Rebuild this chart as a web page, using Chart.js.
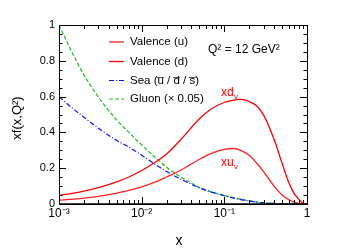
<!DOCTYPE html>
<html>
<head>
<meta charset="utf-8">
<script src="https://cdn.jsdelivr.net/npm/chart.js@4.4.1/dist/chart.umd.min.js"></script>
<style>
  html, body { margin: 0; padding: 0; background: #fff; }
  #pdfChart { display: block; }
</style>
</head>
<body>
<canvas id="pdfChart" width="341" height="250"></canvas>
<script>
// x grid (log scale) and the curves
const xValues = [0.001, 0.0015, 0.002, 0.003, 0.005, 0.007, 0.01, 0.015, 0.02, 0.03, 0.05, 0.07,
                 0.1, 0.13, 0.16, 0.2, 0.25, 0.3, 0.4, 0.5, 0.6, 0.7, 0.8, 0.9, 1.0];
const valenceU = [0.021, 0.027, 0.033, 0.043, 0.061, 0.076, 0.096, 0.125, 0.151, 0.19, 0.25, 0.283,
                  0.305, 0.31, 0.298, 0.272, 0.225, 0.18, 0.1, 0.05, 0.025, 0.01, 0.003, 0.0005, 0];
const valenceD = [0.048, 0.061, 0.072, 0.092, 0.124, 0.151, 0.187, 0.237, 0.279, 0.362, 0.476, 0.532,
                  0.567, 0.58, 0.584, 0.572, 0.545, 0.495, 0.36, 0.227, 0.122, 0.058, 0.026, 0.004, 0];
const seaQuarks = [0.6, 0.53, 0.485, 0.423, 0.355, 0.318, 0.273, 0.218, 0.182, 0.138, 0.09, 0.066,
                   0.046, 0.033, 0.024, 0.016, 0.01, 0.006, 0.003, 0.0015, 0.001, 0.0005, 0.0002, 0.0001, 0];
const gluonScaled = [1.0, 0.83, 0.722, 0.597, 0.469, 0.4, 0.33, 0.255, 0.205, 0.15, 0.093, 0.068,
                     0.048, 0.035, 0.026, 0.018, 0.011, 0.007, 0.0035, 0.0018, 0.001, 0.0005, 0.0002, 0.0001, 0];

const xMajorTicks = [0.001, 0.01, 0.1, 1];
const xTickLabels = ['10\u207B\u00B3', '10\u207B\u00B2', '10\u207B\u00B9', '1'];
const yMajorTicks = [0, 0.2, 0.4, 0.6, 0.8, 1];
const yTickLabels = ['0', '0.2', '0.4', '0.6', '0.8', '1'];

const legendLabels = ['Valence (u)', 'Valence (d)', 'Sea (u\u0305 / d\u0305 / s\u0305)', 'Gluon (\u00D7 0.05)'];

const FONT = '"Liberation Sans", Arial, sans-serif';

function toPoints(ys) {
    return xValues.map((x, i) => ({ x: x, y: ys[i] }));
}

// frame, inward ticks, labels and the in-plot legend (ROOT look)
const rootStyle = {
    id: 'rootStyle',
    afterDraw(chart) {
        const ctx = chart.ctx;
        const a = chart.chartArea;
        const xs = chart.scales.x;
        const ys = chart.scales.y;
        ctx.save();
        ctx.strokeStyle = '#000';
        ctx.lineWidth = 1;

        // ticks on x (bottom and top)
        for (let e = -3; e < 0; e++) {
            for (let m = 1; m <= 9; m++) {
                const v = m * Math.pow(10, e);
                const px = Math.round(xs.getPixelForValue(v)) + 0.5;
                const len = m === 1 ? 7 : 4;
                ctx.beginPath();
                ctx.moveTo(px, a.bottom); ctx.lineTo(px, a.bottom - len);
                ctx.moveTo(px, a.top); ctx.lineTo(px, a.top + len);
                ctx.stroke();
            }
        }
        // ticks on y (left and right)
        for (let k = 0; k <= 20; k++) {
            const v = k * 0.05;
            const py = Math.round(ys.getPixelForValue(v)) + 0.5;
            const len = k % 4 === 0 ? 7 : 3.5;
            ctx.beginPath();
            ctx.moveTo(a.left, py); ctx.lineTo(a.left + len, py);
            ctx.moveTo(a.right, py); ctx.lineTo(a.right - len, py);
            ctx.stroke();
        }

        // frame
        ctx.strokeRect(Math.round(a.left) + 0.5, Math.round(a.top) + 0.5,
                       Math.round(a.right - a.left), Math.round(a.bottom - a.top));
        ctx.lineWidth = 1.5;
        ctx.beginPath();
        ctx.moveTo(a.left, a.bottom); ctx.lineTo(a.right, a.bottom);
        ctx.stroke();

        // tick labels
        ctx.fillStyle = '#000';
        ctx.font = '12px ' + FONT;
        ctx.textAlign = 'center';
        ctx.textBaseline = 'top';
        xMajorTicks.forEach((v, i) => {
            ctx.fillText(xTickLabels[i], xs.getPixelForValue(v), a.bottom + 4);
        });
        ctx.font = '11px ' + FONT;
        ctx.textAlign = 'right';
        ctx.textBaseline = 'middle';
        yMajorTicks.forEach((v, i) => {
            ctx.fillText(yTickLabels[i], a.left - 4, ys.getPixelForValue(v));
        });

        // axis titles
        ctx.font = '14px ' + FONT;
        ctx.textAlign = 'center';
        ctx.textBaseline = 'middle';
        ctx.fillText('x', 179, 241);
        ctx.save();
        ctx.translate(17, 118);
        ctx.rotate(-Math.PI / 2);
        ctx.font = '13px ' + FONT;
        ctx.fillText('xf(x,Q\u00B2)', 0, 0);
        ctx.restore();

        // legend inside the plot
        ctx.font = '11.5px ' + FONT;
        ctx.textAlign = 'left';
        ctx.textBaseline = 'middle';
        const rows = [42, 61.5, 80.5, 99];
        chart.data.datasets.forEach((ds, i) => {
            const y = rows[i];
            ctx.strokeStyle = ds.borderColor;
            ctx.lineWidth = ds.borderWidth;
            ctx.setLineDash(ds.borderDash || []);
            ctx.beginPath();
            ctx.moveTo(109, y); ctx.lineTo(124, y);
            ctx.stroke();
            ctx.setLineDash([]);
            ctx.fillStyle = '#000';
            ctx.fillText(legendLabels[i], 130, y);
        });

        // Q^2 note
        ctx.fillStyle = '#000';
        ctx.font = '12px ' + FONT;
        ctx.textAlign = 'left';
        ctx.fillText('Q\u00B2 = 12 GeV\u00B2', 208, 50);

        // curve labels
        ctx.fillStyle = '#ff0000';
        ctx.font = '12px ' + FONT;
        ctx.fillText('xd', 221, 93);
        ctx.fillText('xu', 221, 163);
        ctx.font = '8px ' + FONT;
        ctx.fillText('v', 234, 97);
        ctx.fillText('v', 234, 167);
        ctx.restore();
    }
};

const ctx = document.getElementById('pdfChart').getContext('2d');
new Chart(ctx, {
    type: 'line',
    data: {
        datasets: [
            { label: legendLabels[0], data: toPoints(valenceU), borderColor: '#ff2020', borderWidth: 1.3 },
            { label: legendLabels[1], data: toPoints(valenceD), borderColor: '#ff0000', borderWidth: 1.3 },
            { label: legendLabels[2], data: toPoints(seaQuarks), borderColor: '#1010ff', borderWidth: 1.2, borderDash: [5, 2, 1, 2] },
            { label: legendLabels[3], data: toPoints(gluonScaled), borderColor: '#22bb22', borderWidth: 1.2, borderDash: [4, 2] }
        ]
    },
    options: {
        responsive: false,
        animation: false,
        layout: { padding: { left: 51, right: 34, top: 25, bottom: 38 } },
        elements: {
            point: { radius: 0 },
            line: { cubicInterpolationMode: 'monotone', fill: false }
        },
        plugins: {
            legend: { display: false },
            tooltip: { enabled: false }
        },
        scales: {
            x: {
                type: 'logarithmic',
                min: 0.001,
                max: 1,
                ticks: { display: false },
                grid: { display: false },
                border: { display: false }
            },
            y: {
                min: 0,
                max: 1,
                ticks: { display: false },
                grid: { display: false },
                border: { display: false }
            }
        }
    },
    plugins: [rootStyle]
});
</script>
</body>
</html>
